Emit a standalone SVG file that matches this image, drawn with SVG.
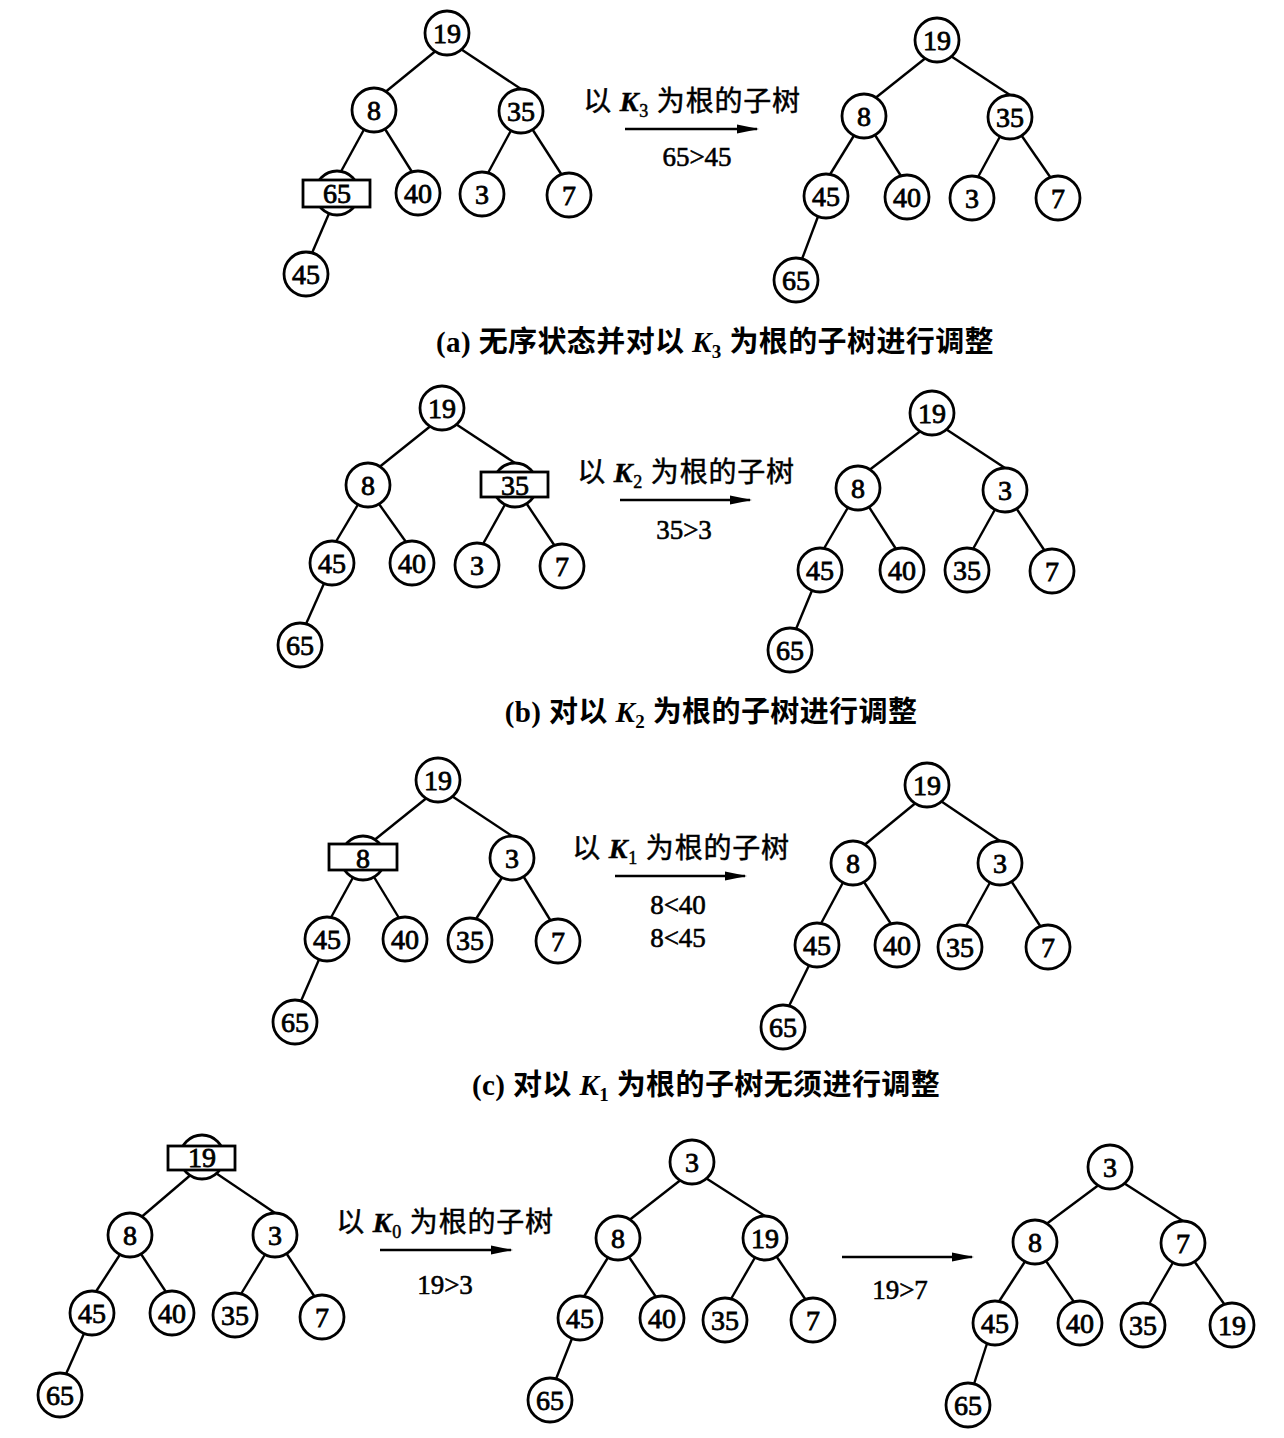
<svg xmlns="http://www.w3.org/2000/svg" width="1284" height="1438" viewBox="0 0 1284 1438">
<style>
.n circle{fill:#fff;stroke:#000;stroke-width:2.8}
.n text{font-family:"Liberation Serif",serif;font-size:28px;text-anchor:middle;fill:#000;stroke:#000;stroke-width:0.8}
.n rect{fill:#fff;stroke:#000;stroke-width:2.8}
.e line{stroke:#000;stroke-width:2.4}
.ar{stroke:#000;stroke-width:2;marker-end:url(#ah)}
.lbl{font-family:"Liberation Serif","Noto Sans CJK SC",serif;font-size:28px;letter-spacing:0.8px;text-anchor:middle;fill:#000;stroke:#000;stroke-width:0.5}
.num{font-family:"Liberation Serif",serif;font-size:27px;text-anchor:middle;fill:#000;stroke:#000;stroke-width:0.6}
.cap{font-family:"Liberation Serif","Noto Sans CJK SC",serif;font-size:29px;letter-spacing:0.4px;font-weight:bold;text-anchor:middle;fill:#000}
.k{font-style:italic;font-weight:bold}
</style>
<defs>
<marker id="ah" markerUnits="userSpaceOnUse" markerWidth="22" markerHeight="10" refX="20" refY="5" orient="auto">
<path d="M0,0.5 L22,5 L0,9.5 Z" fill="#000"/>
</marker>
</defs>
<rect width="1284" height="1438" fill="#fff"/>
<g id="connectors" class="e">
<line x1="435" y1="51.5" x2="386" y2="91.5"/><line x1="461.5" y1="49.5" x2="521" y2="89"/>
<line x1="364" y1="129.5" x2="341" y2="171.5"/><line x1="385" y1="129" x2="412" y2="172"/>
<line x1="511" y1="130.5" x2="488" y2="173"/><line x1="532.5" y1="129.5" x2="561.5" y2="174.5"/>
<line x1="329" y1="213.5" x2="312" y2="253"/>

<line x1="925" y1="58.5" x2="876" y2="97.5"/><line x1="951.5" y1="56.5" x2="1010" y2="95"/>
<line x1="854" y1="135.5" x2="830" y2="174.5"/><line x1="875" y1="135" x2="901" y2="176"/>
<line x1="1000" y1="136.5" x2="978" y2="177"/><line x1="1021.5" y1="135.5" x2="1050.5" y2="177.5"/>
<line x1="818" y1="216.5" x2="802" y2="259"/>

<line x1="430" y1="426.5" x2="380" y2="466.5"/><line x1="456.5" y1="424.5" x2="515" y2="463"/>
<line x1="358" y1="504.5" x2="336" y2="541.5"/><line x1="379" y1="504" x2="406" y2="542"/>
<line x1="505" y1="504.5" x2="483" y2="544"/><line x1="526.5" y1="503.5" x2="554.5" y2="545.5"/>
<line x1="324" y1="583.5" x2="306" y2="624"/>

<line x1="920" y1="431.5" x2="870" y2="469.5"/><line x1="946.5" y1="429.5" x2="1005" y2="468"/>
<line x1="848" y1="507.5" x2="824" y2="548.5"/><line x1="869" y1="507" x2="896" y2="549"/>
<line x1="995" y1="509.5" x2="973" y2="549"/><line x1="1016.5" y1="508.5" x2="1044.5" y2="550.5"/>
<line x1="812" y1="590.5" x2="796" y2="629"/>

<line x1="426" y1="798.5" x2="375" y2="839.5"/><line x1="452.5" y1="796.5" x2="512" y2="836"/>
<line x1="353" y1="877.5" x2="331" y2="917.5"/><line x1="374" y1="877" x2="399" y2="918"/>
<line x1="502" y1="877.5" x2="476" y2="919"/><line x1="523.5" y1="876.5" x2="550.5" y2="920.5"/>
<line x1="319" y1="959.5" x2="301" y2="1001"/>

<line x1="915" y1="803.5" x2="865" y2="844.5"/><line x1="941.5" y1="801.5" x2="1000" y2="841"/>
<line x1="843" y1="882.5" x2="821" y2="923.5"/><line x1="864" y1="882" x2="891" y2="924"/>
<line x1="990" y1="882.5" x2="966" y2="926"/><line x1="1011.5" y1="881.5" x2="1040.5" y2="926.5"/>
<line x1="809" y1="965.5" x2="789" y2="1006"/>

<line x1="190" y1="1175.5" x2="142" y2="1216.5"/><line x1="216.5" y1="1173.5" x2="275" y2="1213"/>
<line x1="120" y1="1254.5" x2="96" y2="1291.5"/><line x1="141" y1="1254" x2="166" y2="1292"/>
<line x1="265" y1="1254.5" x2="241" y2="1294"/><line x1="286.5" y1="1253.5" x2="314.5" y2="1296.5"/>
<line x1="84" y1="1333.5" x2="66" y2="1374"/>

<line x1="680" y1="1180.5" x2="630" y2="1219.5"/><line x1="706.5" y1="1178.5" x2="765" y2="1216"/>
<line x1="608" y1="1257.5" x2="584" y2="1296.5"/><line x1="629" y1="1257" x2="656" y2="1297"/>
<line x1="755" y1="1257.5" x2="731" y2="1299"/><line x1="776.5" y1="1256.5" x2="805.5" y2="1299.5"/>
<line x1="572" y1="1338.5" x2="556" y2="1379"/>

<line x1="1098" y1="1185.5" x2="1047" y2="1223.5"/><line x1="1124.5" y1="1183.5" x2="1183" y2="1221"/>
<line x1="1025" y1="1261.5" x2="999" y2="1301.5"/><line x1="1046" y1="1261" x2="1074" y2="1302"/>
<line x1="1173" y1="1262.5" x2="1149" y2="1304"/><line x1="1194.5" y1="1261.5" x2="1224.5" y2="1304.5"/>
<line x1="987" y1="1343.5" x2="974" y2="1384"/>

<line class="ar" x1="625" y1="129" x2="757" y2="129"/>
<line class="ar" x1="620" y1="500" x2="750" y2="500"/>
<line class="ar" x1="615" y1="876" x2="745" y2="876"/>
<line class="ar" x1="380" y1="1250" x2="511" y2="1250"/>
<line class="ar" x1="842" y1="1257" x2="972" y2="1257"/>
</g>
<g id="a1-19" class="n"><circle cx="447" cy="33" r="22"/><text x="447" y="43">19</text></g>
<g id="a1-8" class="n"><circle cx="374" cy="110" r="22"/><text x="374" y="120">8</text></g>
<g id="a1-35" class="n"><circle cx="521" cy="111" r="22"/><text x="521" y="121">35</text></g>
<g id="a1-65" class="n"><circle cx="337" cy="193" r="22"/><rect x="303" y="180" width="67" height="27"/><text x="337" y="203">65</text></g>
<g id="a1-40" class="n"><circle cx="418" cy="193" r="22"/><text x="418" y="203">40</text></g>
<g id="a1-3" class="n"><circle cx="482" cy="194" r="22"/><text x="482" y="204">3</text></g>
<g id="a1-7" class="n"><circle cx="569" cy="195" r="22"/><text x="569" y="205">7</text></g>
<g id="a1-45" class="n"><circle cx="306" cy="274" r="22"/><text x="306" y="284">45</text></g>
<g id="a2-19" class="n"><circle cx="937" cy="40" r="22"/><text x="937" y="50">19</text></g>
<g id="a2-8" class="n"><circle cx="864" cy="116" r="22"/><text x="864" y="126">8</text></g>
<g id="a2-35" class="n"><circle cx="1010" cy="117" r="22"/><text x="1010" y="127">35</text></g>
<g id="a2-45" class="n"><circle cx="826" cy="196" r="22"/><text x="826" y="206">45</text></g>
<g id="a2-40" class="n"><circle cx="907" cy="197" r="22"/><text x="907" y="207">40</text></g>
<g id="a2-3" class="n"><circle cx="972" cy="198" r="22"/><text x="972" y="208">3</text></g>
<g id="a2-7" class="n"><circle cx="1058" cy="198" r="22"/><text x="1058" y="208">7</text></g>
<g id="a2-65" class="n"><circle cx="796" cy="280" r="22"/><text x="796" y="290">65</text></g>
<g id="b1-19" class="n"><circle cx="442" cy="408" r="22"/><text x="442" y="418">19</text></g>
<g id="b1-8" class="n"><circle cx="368" cy="485" r="22"/><text x="368" y="495">8</text></g>
<g id="b1-35" class="n"><circle cx="515" cy="485" r="22"/><rect x="481" y="472" width="67" height="25"/><text x="515" y="495">35</text></g>
<g id="b1-45" class="n"><circle cx="332" cy="563" r="22"/><text x="332" y="573">45</text></g>
<g id="b1-40" class="n"><circle cx="412" cy="563" r="22"/><text x="412" y="573">40</text></g>
<g id="b1-3" class="n"><circle cx="477" cy="565" r="22"/><text x="477" y="575">3</text></g>
<g id="b1-7" class="n"><circle cx="562" cy="566" r="22"/><text x="562" y="576">7</text></g>
<g id="b1-65" class="n"><circle cx="300" cy="645" r="22"/><text x="300" y="655">65</text></g>
<g id="b2-19" class="n"><circle cx="932" cy="413" r="22"/><text x="932" y="423">19</text></g>
<g id="b2-8" class="n"><circle cx="858" cy="488" r="22"/><text x="858" y="498">8</text></g>
<g id="b2-3" class="n"><circle cx="1005" cy="490" r="22"/><text x="1005" y="500">3</text></g>
<g id="b2-45" class="n"><circle cx="820" cy="570" r="22"/><text x="820" y="580">45</text></g>
<g id="b2-40" class="n"><circle cx="902" cy="570" r="22"/><text x="902" y="580">40</text></g>
<g id="b2-35" class="n"><circle cx="967" cy="570" r="22"/><text x="967" y="580">35</text></g>
<g id="b2-7" class="n"><circle cx="1052" cy="571" r="22"/><text x="1052" y="581">7</text></g>
<g id="b2-65" class="n"><circle cx="790" cy="650" r="22"/><text x="790" y="660">65</text></g>
<g id="c1-19" class="n"><circle cx="438" cy="780" r="22"/><text x="438" y="790">19</text></g>
<g id="c1-8" class="n"><circle cx="363" cy="858" r="22"/><rect x="329" y="844" width="68" height="26"/><text x="363" y="868">8</text></g>
<g id="c1-3" class="n"><circle cx="512" cy="858" r="22"/><text x="512" y="868">3</text></g>
<g id="c1-45" class="n"><circle cx="327" cy="939" r="22"/><text x="327" y="949">45</text></g>
<g id="c1-40" class="n"><circle cx="405" cy="939" r="22"/><text x="405" y="949">40</text></g>
<g id="c1-35" class="n"><circle cx="470" cy="940" r="22"/><text x="470" y="950">35</text></g>
<g id="c1-7" class="n"><circle cx="558" cy="941" r="22"/><text x="558" y="951">7</text></g>
<g id="c1-65" class="n"><circle cx="295" cy="1022" r="22"/><text x="295" y="1032">65</text></g>
<g id="c2-19" class="n"><circle cx="927" cy="785" r="22"/><text x="927" y="795">19</text></g>
<g id="c2-8" class="n"><circle cx="853" cy="863" r="22"/><text x="853" y="873">8</text></g>
<g id="c2-3" class="n"><circle cx="1000" cy="863" r="22"/><text x="1000" y="873">3</text></g>
<g id="c2-45" class="n"><circle cx="817" cy="945" r="22"/><text x="817" y="955">45</text></g>
<g id="c2-40" class="n"><circle cx="897" cy="945" r="22"/><text x="897" y="955">40</text></g>
<g id="c2-35" class="n"><circle cx="960" cy="947" r="22"/><text x="960" y="957">35</text></g>
<g id="c2-7" class="n"><circle cx="1048" cy="947" r="22"/><text x="1048" y="957">7</text></g>
<g id="c2-65" class="n"><circle cx="783" cy="1027" r="22"/><text x="783" y="1037">65</text></g>
<g id="d1-19" class="n"><circle cx="202" cy="1157" r="22"/><rect x="168" y="1146" width="67" height="24"/><text x="202" y="1167">19</text></g>
<g id="d1-8" class="n"><circle cx="130" cy="1235" r="22"/><text x="130" y="1245">8</text></g>
<g id="d1-3" class="n"><circle cx="275" cy="1235" r="22"/><text x="275" y="1245">3</text></g>
<g id="d1-45" class="n"><circle cx="92" cy="1313" r="22"/><text x="92" y="1323">45</text></g>
<g id="d1-40" class="n"><circle cx="172" cy="1313" r="22"/><text x="172" y="1323">40</text></g>
<g id="d1-35" class="n"><circle cx="235" cy="1315" r="22"/><text x="235" y="1325">35</text></g>
<g id="d1-7" class="n"><circle cx="322" cy="1317" r="22"/><text x="322" y="1327">7</text></g>
<g id="d1-65" class="n"><circle cx="60" cy="1395" r="22"/><text x="60" y="1405">65</text></g>
<g id="d2-3" class="n"><circle cx="692" cy="1162" r="22"/><text x="692" y="1172">3</text></g>
<g id="d2-8" class="n"><circle cx="618" cy="1238" r="22"/><text x="618" y="1248">8</text></g>
<g id="d2-19" class="n"><circle cx="765" cy="1238" r="22"/><text x="765" y="1248">19</text></g>
<g id="d2-45" class="n"><circle cx="580" cy="1318" r="22"/><text x="580" y="1328">45</text></g>
<g id="d2-40" class="n"><circle cx="662" cy="1318" r="22"/><text x="662" y="1328">40</text></g>
<g id="d2-35" class="n"><circle cx="725" cy="1320" r="22"/><text x="725" y="1330">35</text></g>
<g id="d2-7" class="n"><circle cx="813" cy="1320" r="22"/><text x="813" y="1330">7</text></g>
<g id="d2-65" class="n"><circle cx="550" cy="1400" r="22"/><text x="550" y="1410">65</text></g>
<g id="d3-3" class="n"><circle cx="1110" cy="1167" r="22"/><text x="1110" y="1177">3</text></g>
<g id="d3-8" class="n"><circle cx="1035" cy="1242" r="22"/><text x="1035" y="1252">8</text></g>
<g id="d3-7" class="n"><circle cx="1183" cy="1243" r="22"/><text x="1183" y="1253">7</text></g>
<g id="d3-45" class="n"><circle cx="995" cy="1323" r="22"/><text x="995" y="1333">45</text></g>
<g id="d3-40" class="n"><circle cx="1080" cy="1323" r="22"/><text x="1080" y="1333">40</text></g>
<g id="d3-35" class="n"><circle cx="1143" cy="1325" r="22"/><text x="1143" y="1335">35</text></g>
<g id="d3-19" class="n"><circle cx="1232" cy="1325" r="22"/><text x="1232" y="1335">19</text></g>
<g id="d3-65" class="n"><circle cx="968" cy="1405" r="22"/><text x="968" y="1415">65</text></g>
<g id="labels">
<text class="lbl" x="692" y="111">以 <tspan class="k">K</tspan><tspan font-size="18" dy="6">3</tspan><tspan dy="-6"> 为根的子树</tspan></text>
<text class="num" x="697" y="166">65&gt;45</text>
<text class="lbl" x="686" y="482">以 <tspan class="k">K</tspan><tspan font-size="18" dy="6">2</tspan><tspan dy="-6"> 为根的子树</tspan></text>
<text class="num" x="684" y="539">35&gt;3</text>
<text class="lbl" x="681" y="858">以 <tspan class="k">K</tspan><tspan font-size="18" dy="6">1</tspan><tspan dy="-6"> 为根的子树</tspan></text>
<text class="num" x="678" y="914">8&lt;40</text>
<text class="num" x="678" y="947">8&lt;45</text>
<text class="lbl" x="445" y="1232">以 <tspan class="k">K</tspan><tspan font-size="18" dy="6">0</tspan><tspan dy="-6"> 为根的子树</tspan></text>
<text class="num" x="445" y="1294">19&gt;3</text>
<text class="num" x="900" y="1299">19&gt;7</text>
<text class="cap" x="715" y="352">(a) 无序状态并对以 <tspan class="k">K</tspan><tspan font-size="19" dy="6">3</tspan><tspan dy="-6"> 为根的子树进行调整</tspan></text>
<text class="cap" x="711" y="722">(b) 对以 <tspan class="k">K</tspan><tspan font-size="19" dy="6">2</tspan><tspan dy="-6"> 为根的子树进行调整</tspan></text>
<text class="cap" x="706" y="1095">(c) 对以 <tspan class="k">K</tspan><tspan font-size="19" dy="6">1</tspan><tspan dy="-6"> 为根的子树无须进行调整</tspan></text>
</g>
</svg>
